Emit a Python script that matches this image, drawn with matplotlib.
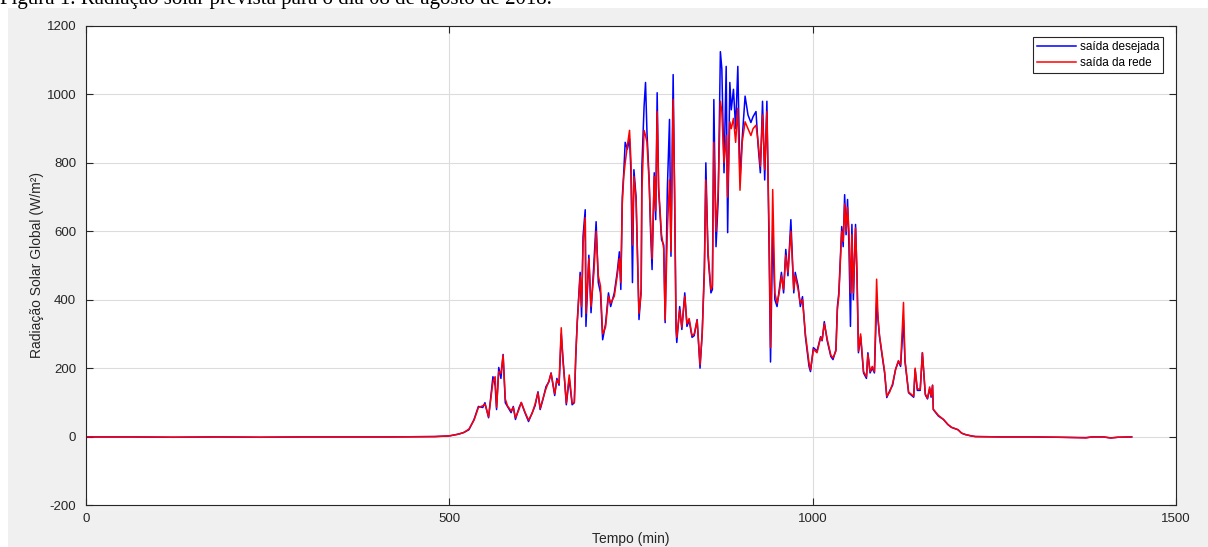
import matplotlib.pyplot as plt
from matplotlib.patches import Rectangle

# minutes of the day where the curve was read, and the two series
minutes = [0, 60, 120, 180, 240, 300, 360, 420, 480, 500,
           510, 514, 520, 527, 534, 540, 546, 549, 554, 560,
           563, 565, 568, 571, 574, 577, 580, 585, 588, 591,
           596, 599, 604, 609, 614, 618, 622, 625, 629, 633,
           637, 640, 645, 648, 651, 654, 656, 659, 661, 665,
           669, 672, 674, 676, 680, 682, 684, 687, 688, 692,
           695, 699, 702, 705, 708, 711, 715, 719, 722, 727,
           731, 734, 736, 738, 740, 742, 745, 748, 750, 752,
           754, 757, 761, 764, 765, 768, 770, 772, 775, 777,
           779, 782, 784, 786, 788, 792, 795, 797, 800, 803,
           805, 808, 810, 812, 813, 817, 820, 824, 827, 830,
           834, 837, 841, 845, 848, 851, 853, 856, 860, 862,
           864, 867, 870, 873, 875, 878, 881, 883, 886, 888,
           891, 894, 897, 900, 903, 907, 911, 915, 918, 922,
           925, 928, 931, 934, 937, 940, 942, 945, 948, 951,
           954, 957, 960, 963, 966, 970, 974, 976, 980, 983,
           986, 990, 995, 997, 1001, 1006, 1011, 1013, 1016, 1020,
           1025, 1028, 1032, 1034, 1036, 1040, 1042, 1044, 1046, 1048,
           1050, 1052, 1054, 1056, 1059, 1061, 1063, 1066, 1070, 1074,
           1076, 1079, 1082, 1085, 1088, 1090, 1092, 1095, 1099, 1102,
           1106, 1110, 1114, 1118, 1121, 1125, 1127, 1132, 1139, 1141,
           1144, 1148, 1151, 1155, 1158, 1161, 1163, 1165, 1166, 1173,
           1180, 1186, 1191, 1200, 1205, 1210, 1218, 1224, 1260, 1300,
           1340, 1376, 1385, 1400, 1410, 1420, 1439]

desejada = [-1, -1, -2, -1, -2, -1, -1, -1, 0, 2,
            6, 8, 12, 20, 50, 88, 85, 99, 55, 175,
            150, 79, 202, 170, 240, 99, 88, 70, 88, 50,
            85, 99, 70, 44, 70, 90, 131, 79, 110, 146,
            160, 186, 120, 170, 150, 300, 240, 150, 93, 170,
            93, 99, 234, 336, 480, 350, 585, 663, 322, 530,
            362, 510, 628, 450, 420, 283, 330, 420, 380, 420,
            480, 540, 430, 700, 771, 860, 840, 870, 771, 450,
            780, 700, 342, 430, 790, 965, 1035, 888, 750, 596,
            488, 771, 634, 1005, 722, 576, 560, 333, 722, 927,
            527, 1058, 700, 313, 275, 380, 313, 420, 322, 340,
            290, 295, 342, 200, 304, 497, 800, 527, 420, 430,
            985, 555, 693, 1125, 1075, 771, 1082, 596, 1035, 955,
            1015, 900, 1082, 750, 870, 995, 940, 918, 935, 950,
            848, 771, 980, 750, 980, 555, 218, 600, 400, 380,
            430, 480, 420, 547, 470, 634, 420, 480, 440, 380,
            409, 292, 205, 190, 260, 250, 292, 280, 336, 280,
            234, 225, 254, 380, 420, 614, 555, 707, 590, 693,
            550, 322, 620, 400, 620, 470, 245, 292, 186, 170,
            245, 186, 200, 186, 390, 340, 292, 245, 186, 114,
            134, 150, 196, 220, 205, 340, 220, 128, 115, 196,
            135, 135, 245, 122, 110, 140, 115, 150, 79, 60,
            50, 35, 27, 20, 10, 6, 2, 0, -1, -1,
            -2, -3, -1, -1, -4, -2, -1]

rede = [-1, -1, -2, -1, -2, -1, -1, -1, 0, 2,
        6, 8, 12, 22, 48, 85, 90, 95, 58, 160,
        175, 85, 190, 185, 238, 110, 90, 75, 85, 55,
        80, 100, 72, 48, 68, 95, 128, 82, 112, 140,
        162, 185, 125, 165, 155, 318, 230, 155, 98, 180,
        98, 100, 240, 330, 470, 380, 560, 640, 360, 520,
        380, 480, 600, 470, 440, 300, 320, 410, 390, 410,
        470, 520, 450, 680, 760, 800, 850, 895, 800, 560,
        760, 690, 360, 420, 720, 895, 880, 860, 740, 620,
        520, 760, 660, 950, 730, 590, 550, 340, 600, 750,
        540, 985, 720, 330, 290, 370, 320, 410, 330, 345,
        295, 300, 340, 210, 300, 480, 750, 540, 430, 440,
        860, 600, 720, 980, 950, 800, 880, 700, 920, 900,
        930, 860, 960, 720, 860, 920, 900, 880, 900, 910,
        860, 790, 940, 780, 950, 600, 260, 722, 420, 390,
        420, 470, 430, 530, 480, 600, 430, 470, 430, 390,
        400, 300, 215, 195, 255, 245, 290, 282, 330, 285,
        238, 230, 250, 370, 410, 600, 570, 680, 600, 670,
        600, 420, 590, 420, 610, 480, 250, 300, 190, 175,
        240, 190, 205, 190, 460, 345, 295, 250, 190, 118,
        130, 155, 195, 222, 210, 392, 225, 130, 118, 200,
        140, 138, 245, 125, 112, 145, 118, 150, 80, 62,
        50, 36, 27, 20, 10, 6, 2, 0, -1, -1,
        -2, -4, -1, -1, -4, -2, -1]

x_ticks = [0, 500, 1000, 1500]
y_ticks = [-200, 0, 200, 400, 600, 800, 1000, 1200]

plt.rcParams['font.family'] = ['Liberation Sans', 'DejaVu Sans']
plt.rcParams['axes.unicode_minus'] = False

fig = plt.figure(figsize=(12.08, 5.47), dpi=100, facecolor='white')

# grey MATLAB figure window area, behind the axes
fig.patches.append(Rectangle((8 / 1208, 0), 1, 1 - 8 / 547, transform=fig.transFigure,
                             facecolor='#f0f0f0', edgecolor='none', zorder=-5))

# caption of the document, cut at the top edge
fig.text(0.0, 1 - 4 / 547, 'Figura 1. Radiação solar prevista para o dia 08 de agosto de 2018.',
         family='Liberation Serif', fontsize=15, color='black', va='baseline', ha='left',
         zorder=-4)

ax = fig.add_axes([86 / 1208, 1 - 505 / 547, (1176 - 86) / 1208, (505 - 26) / 547])
ax.set_facecolor('white')

ax.plot(minutes, desejada, color='#0000ff', lw=1.1, label='saída desejada')
ax.plot(minutes, rede, color='#ff0000', lw=1.1, label='saída da rede')

ax.set_xlim(0, 1500)
ax.set_ylim(-200, 1200)
ax.set_xticks(x_ticks)
ax.set_yticks(y_ticks)
ax.grid(True, color='#dcdcdc', lw=0.8)
ax.set_axisbelow(True)

ax.tick_params(direction='in', length=5, width=0.8, colors='#262626', labelsize=9.5,
               top=True, right=True, labeltop=False, labelright=False)
ax.tick_params(axis='y', pad=7)
ax.tick_params(axis='x', pad=6)
for s in ax.spines.values():
    s.set_color('#262626')
    s.set_linewidth(0.8)

ax.set_xlabel('Tempo (min)', fontsize=10, color='#262626', labelpad=5)
ax.set_ylabel('Radiação Solar Global (W/m²)', fontsize=10, color='#262626', labelpad=2)

leg = ax.legend(loc='upper right', bbox_to_anchor=(0.9885, 0.977), fontsize=8.5, fancybox=False,
                framealpha=1, edgecolor='#262626', borderpad=0.35, labelspacing=0.3,
                handlelength=3.3, handletextpad=0.3, borderaxespad=0)
leg.get_frame().set_linewidth(0.8)

fig.savefig('out.png', dpi=100, facecolor=fig.get_facecolor())
